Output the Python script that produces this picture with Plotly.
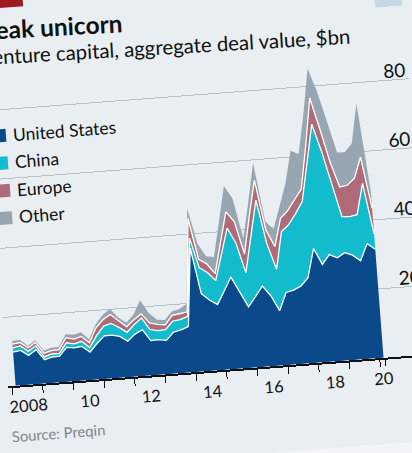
import pandas as pd
import plotly.graph_objects as go

# quarterly deal value, $bn, Q1 2008 .. Q1 2020, plotted mid-quarter
quarters = pd.date_range("2008-01-01", periods=49, freq="QS") + pd.Timedelta(days=45)

united_states = [9.8, 10.1, 8.5, 10.0, 6.9, 7.5, 7.6, 10.0, 9.7, 9.9, 8.1, 10.5,
                 12.5, 12.5, 12.0, 10.4, 12.3, 13.4, 10.1, 10.2, 9.8, 12.0, 12.5, 13.3,
                 35.9, 22.5, 20.5, 19.0, 22.8, 26.7, 22.2, 17.7, 20.5, 23.4, 20.4, 15.9,
                 21.0, 21.5, 22.5, 24.8, 33.1, 28.3, 31.0, 29.9, 31.2, 30.3, 28.5, 33.3,
                 31.5]
china = [1.2, 1.3, 1.2, 1.1, 0.8, 0.9, 0.8, 1.3, 1.1, 1.5, 1.3, 2.2,
         2.8, 3.4, 2.6, 2.6, 2.8, 3.4, 3.2, 2.6, 3.1, 3.2, 3.0, 3.0,
         2.9, 7.5, 8.0, 7.0, 10.7, 14.2, 14.2, 9.9, 17.5, 24.9, 15.1, 12.0,
         17.7, 19.0, 21.0, 22.1, 24.9, 40.7, 30.0, 21.1, 10.5, 11.2, 13.4, 17.5,
         4.5]
europe = [1.1, 1.0, 1.0, 1.0, 1.1, 1.0, 1.1, 1.5, 1.4, 1.4, 1.4, 2.3,
          1.9, 2.6, 1.9, 1.6, 1.4, 1.2, 1.9, 1.8, 1.4, 1.7, 1.7, 1.3,
          5.7, 2.5, 2.5, 2.0, 3.5, 4.7, 6.2, 5.4, 6.0, 5.8, 4.0, 6.6,
          3.8, 4.0, 4.0, 3.6, 5.0, 7.6, 6.5, 6.7, 8.6, 9.1, 10.5, 7.6,
          7.4]
other = [0.9, 0.8, 0.6, 0.6, 0.8, 0.8, 0.8, 1.0, 1.3, 1.2, 1.0, 1.0,
         1.4, 1.6, 1.0, 1.2, 1.5, 4.0, 2.8, 1.4, 1.4, 1.1, 1.4, 2.3,
         2.9, 4.5, 2.2, 4.8, 6.0, 7.5, 6.7, 4.5, 4.0, 5.0, 2.5, 5.0,
         3.5, 8.0, 14.3, 10.2, 9.0, 8.5, 11.0, 11.3, 10.0, 9.6, 10.1, 15.6,
         4.6]

series_names = ["United States", "China", "Europe", "Other"]
series_values = [united_states, china, europe, other]
series_colors = ["#0b4a8a", "#12bccd", "#ad6c77", "#98a6b1"]

label_dates = ["2008-07-01", "2010-07-01", "2012-07-01", "2014-07-01",
               "2016-07-01", "2018-07-01", "2020-02-01"]
label_text = ["2008", "10", "12", "14", "16", "18", "20"]
year_marks = [f"{y}-01-01" for y in range(2008, 2021)] + ["2020-03-05"]
y_ticks = [20, 40, 60, 80]

# page geometry (chart is drawn level, then tilted like the photo)
W, H = 470, 482
ML, MR, MT, MB = 19, 28, 85, 86
PW, PH = W - ML - MR, H - MT - MB
BG = "#e8eef2"
FONT = "Lato"


def paper(a, b):
    return (a - ML) / PW, (H - MB - b) / PH


fig = go.Figure()

for name, vals, color in zip(series_names, series_values, series_colors):
    last = name == "Other"
    fig.add_trace(go.Scatter(
        x=quarters, y=vals, stackgroup="vc", mode="lines",
        line=dict(color=color if last else "white", width=0 if last else 1.3),
        fillcolor=color, showlegend=False, hoverinfo="skip"))


def note(text, a, b, size, color="#111", angle=0):
    x, y = paper(a, b)
    return dict(text=text, x=x, y=y, xref="paper", yref="paper",
                xanchor="left", yanchor="middle", showarrow=False,
                textangle=angle, font=dict(size=size, color=color))


annotations = [
    note("<b>Peak unicorn</b>", 17, 40.5, 24.5, angle=1.2),
    note("Venture capital, aggregate deal value, $bn", 14, 69.5, 20.4, angle=1.0),
    note("Source: Preqin", 17, 445.5, 14.8, "#80868c"),
]

r0x, r0y = paper(0, 0)
r1x, r1y = paper(63, 18)
b0x, b0y = paper(414, 20)
b1x, b1y = paper(441, 46)
shapes = [
    dict(type="rect", xref="paper", yref="paper", x0=r0x, x1=r1x, y0=r0y, y1=r1y,
         fillcolor="#9b1b20", line_width=0, layer="above"),
    dict(type="rect", xref="paper", yref="paper", x0=b0x, x1=b1x, y0=b0y, y1=b1y,
         fillcolor="#c5d8e5", line_width=0, layer="above"),
]

# key: square swatch plus name, one row per series
for k, (name, color) in enumerate(zip(series_names, series_colors)):
    base = 152 + 27.5 * k
    annotations.append(note(name, 41, base - 7, 17.5))
    x0, y0 = paper(23, base - 13)
    x1, y1 = paper(36, base)
    shapes.append(dict(type="rect", xref="paper", yref="paper",
                       x0=x0, x1=x1, y0=y0, y1=y1,
                       fillcolor=color, line_width=0, layer="above"))

fig.update_layout(
    width=W, height=H,
    margin=dict(l=ML, r=MR, t=MT, b=MB, pad=0, autoexpand=False),
    paper_bgcolor=BG, plot_bgcolor=BG,
    font=dict(family=FONT, color="#111"),
    showlegend=False,
    annotations=annotations,
    shapes=shapes,
    xaxis=dict(
        type="date", range=["2007-11-16", "2021-08-19"],
        tickvals=label_dates, ticktext=label_text,
        ticks="outside", ticklen=0, ticklabelstandoff=5,
        tickfont=dict(size=16.5, color="#111"),
        showgrid=False, zeroline=False,
        showline=True, linecolor="#111", linewidth=1.5,
        minor=dict(tickvals=year_marks, ticks="outside", ticklen=7,
                   tickwidth=1.3, tickcolor="#111", showgrid=False),
    ),
    yaxis=dict(
        range=[0, 90], side="right", tickvals=y_ticks,
        ticks="", ticklabelposition="inside", ticklabelshift=-9,
        tickfont=dict(size=19, color="#111"),
        showgrid=True, gridcolor="#b6c0c8", gridwidth=1,
        zeroline=False, showline=False,
    ),
)

# tilt the finished chart the way the photographed page is tilted
tilt = """
var gd = document.getElementById('{plot_id}');
document.body.style.margin = '0';
document.body.style.background = '#f2f5f7';
document.body.style.overflow = 'hidden';
gd.style.position = 'absolute';
gd.style.left = '-40.6px';
gd.style.top = '-6.9px';
gd.style.transformOrigin = '0 0';
gd.style.transform = 'rotate(-4.35deg)';
"""

fig.write_html("out.html", post_script=tilt)
